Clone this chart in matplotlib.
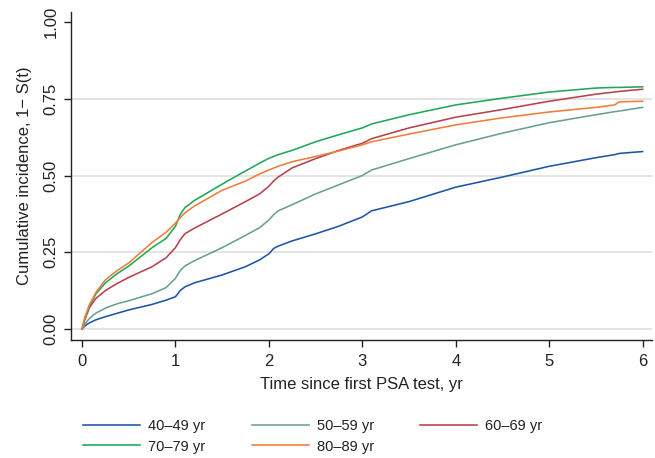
import matplotlib
matplotlib.use("Agg")
import matplotlib.pyplot as plt

plt.rcParams['font.family'] = ['Liberation Sans', 'DejaVu Sans']

time_yr = [0, 0.03, 0.08, 0.15, 0.25, 0.375, 0.5, 0.75, 0.9, 1.0, 1.05, 1.1, 1.2, 1.5,
           1.75, 1.9, 2.0, 2.05, 2.1, 2.25, 2.5, 2.75, 3.0, 3.1, 3.5, 4.0, 4.5, 5.0,
           5.5, 5.7, 5.75, 6.0]

age_40_49 = [0, 0.01, 0.02, 0.03, 0.04, 0.051, 0.062, 0.08, 0.094, 0.105, 0.125, 0.137,
             0.15, 0.176, 0.203, 0.225, 0.245, 0.262, 0.27, 0.287, 0.31, 0.335, 0.365,
             0.385, 0.415, 0.462, 0.495, 0.53, 0.558, 0.568, 0.572, 0.578]
age_50_59 = [0, 0.015, 0.035, 0.052, 0.068, 0.082, 0.092, 0.115, 0.135, 0.165, 0.19, 0.205,
             0.222, 0.265, 0.305, 0.33, 0.355, 0.372, 0.385, 0.405, 0.44, 0.47, 0.5,
             0.518, 0.555, 0.6, 0.638, 0.672, 0.698, 0.708, 0.71, 0.722]
age_60_69 = [0, 0.03, 0.07, 0.1, 0.125, 0.148, 0.168, 0.203, 0.232, 0.265, 0.29, 0.31,
             0.328, 0.375, 0.415, 0.44, 0.465, 0.482, 0.495, 0.525, 0.555, 0.582, 0.605,
             0.62, 0.655, 0.69, 0.715, 0.742, 0.765, 0.772, 0.774, 0.781]
age_70_79 = [0, 0.035, 0.075, 0.115, 0.15, 0.18, 0.205, 0.265, 0.295, 0.335, 0.372, 0.395,
             0.418, 0.472, 0.515, 0.54, 0.556, 0.562, 0.568, 0.582, 0.61, 0.633, 0.655,
             0.668, 0.698, 0.73, 0.752, 0.772, 0.785, 0.787, 0.787, 0.789]
age_80_89 = [0, 0.038, 0.08, 0.12, 0.16, 0.19, 0.215, 0.282, 0.315, 0.345, 0.362, 0.378,
             0.40, 0.452, 0.482, 0.505, 0.518, 0.524, 0.53, 0.545, 0.562, 0.58, 0.6,
             0.61, 0.635, 0.665, 0.688, 0.707, 0.722, 0.73, 0.74, 0.742]

labels = ['40\u201349 yr', '50\u201359 yr', '60\u201369 yr', '70\u201379 yr', '80\u201389 yr']
series = [age_40_49, age_50_59, age_60_69, age_70_79, age_80_89]
colors = ['#1c55a8', '#6a9f95', '#b8414c', '#1fa85a', '#f07d3b']

x_ticks = [0, 1, 2, 3, 4, 5, 6]
y_ticks = [0.0, 0.25, 0.5, 0.75, 1.0]
y_ticklabels = ['0.00', '0.25', '0.50', '0.75', '1.00']

fig = plt.figure(figsize=(6.55, 4.58), dpi=100)
ax = fig.add_axes([0.1084, 0.2576, 0.887, 0.7164])

for yv in [0.0, 0.25, 0.5, 0.75]:
    ax.axhline(yv, color='#e2e2e2', lw=1.3, zorder=0)

handles = []
for vals, lab, col in zip(series, labels, colors):
    h, = ax.plot(time_yr, vals, color=col, lw=1.15, label=lab)
    handles.append(h)

ax.set_xlim(-0.118, 6.1)
ax.set_ylim(-0.036, 1.033)
ax.set_xticks(x_ticks)
ax.set_yticks(y_ticks)
ax.set_yticklabels(y_ticklabels, rotation=90, va='center')
ax.tick_params(axis='both', direction='out', length=5, width=1, colors='#222222',
               labelsize=12, labelcolor='#222222')
ax.tick_params(axis='x', pad=5)
ax.tick_params(axis='y', pad=4)
for s in ['top', 'right']:
    ax.spines[s].set_visible(False)
for s in ['left', 'bottom']:
    ax.spines[s].set_linewidth(1.0)
    ax.spines[s].set_color('#222222')

ax.set_xlabel('Time since first PSA test, yr', fontsize=12, color='#222222', labelpad=6)
ax.set_ylabel('Cumulative incidence, 1\u2212 S(t)', fontsize=12, color='#222222', labelpad=8)

order = [0, 3, 1, 4, 2]
leg = fig.legend([handles[i] for i in order], [labels[i] for i in order], ncol=3,
                 loc='upper left', bbox_to_anchor=(0.118, 0.098), frameon=False,
                 fontsize=10.5, handlelength=3.9, columnspacing=3.2, handletextpad=0.55,
                 labelspacing=0.45, borderaxespad=0)
for t in leg.get_texts():
    t.set_color('#222222')

fig.savefig('out.png', dpi=100)
